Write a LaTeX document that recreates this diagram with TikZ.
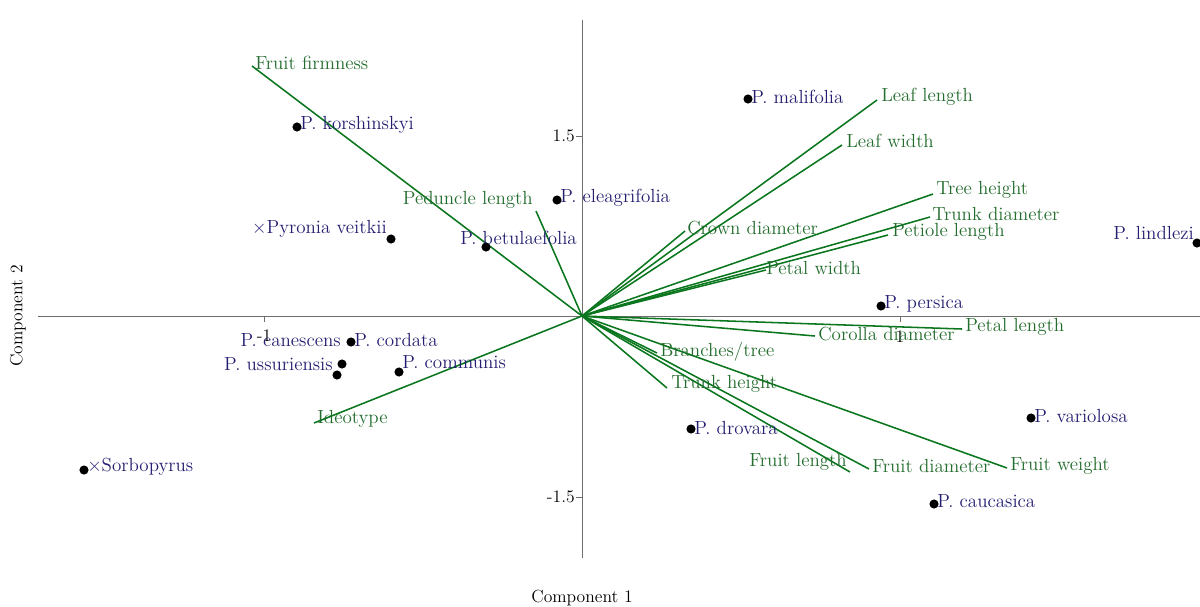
\documentclass[tikz,border=0pt]{standalone}
\usepackage{xcolor}
\definecolor{vecgreen}{RGB}{10,118,30}
\definecolor{labgreen}{RGB}{35,108,45}
\definecolor{spblue}{RGB}{35,30,112}
\definecolor{axgray}{RGB}{110,110,110}
\tikzset{
  vec/.style={draw=vecgreen,line width=1.1pt},
  vlab/.style={text=labgreen,inner sep=0pt,font=\fontsize{13.5}{15}\selectfont},
  splab/.style={text=spblue,inner sep=0pt,font=\fontsize{13.5}{15}\selectfont},
  pt/.style={circle,fill=black,inner sep=0pt,minimum size=6.5pt},
  tick/.style={inner sep=0pt,font=\fontsize{12.5}{14}\selectfont},
  axis/.style={draw=axgray,line width=0.7pt}
}
\begin{document}
\begin{tikzpicture}[x=0.025cm,y=-0.025cm]
        \useasboundingbox (0,0) rectangle (1200,606);
        %%%%%%%%%% Assi e tacche %%%%%%%%%%
        \coordinate (O) at (582,316);
        \coordinate (xl) at (38,316);
        \coordinate (xr) at (1200,316);
        \coordinate (yt) at (582,20);
        \coordinate (yb) at (582,558);
        \draw[axis] (xl) -- (xr);
        \draw[axis] (yt) -- (yb);
        \draw[axis] (264,316) -- (264,322);
        \draw[axis] (900,316) -- (900,322);
        \draw[axis] (582,136) -- (576,136);
        \draw[axis] (582,497) -- (576,497);
        \node[tick,anchor=east] (t15) at (575,136) {1.5};
        \node[tick,anchor=east] (tm15) at (575,497) {-1.5};
        \node[tick] (tm1) at (264,336) {-1};
        \node[tick] (t1) at (900,337) {1};
        \node[tick] (c1) at (582,598) {Component 1};
        \node[tick,rotate=90] (c2) at (18,316) {Component 2};

        %%%%%%%%%% Vettori %%%%%%%%%%
        \coordinate (firm) at (252,66);
        \coordinate (pedl) at (536,211);
        \coordinate (leafl) at (877,100);
        \coordinate (leafw) at (842,145);
        \coordinate (treeh) at (933,194);
        \coordinate (trunkd) at (930,217);
        \coordinate (petil) at (888,235);
        \coordinate (crown) at (685,231);
        \coordinate (petw) at (766,270);
        \coordinate (petl) at (962,329);
        \coordinate (coro) at (815,336);
        \coordinate (branch) at (657,353);
        \coordinate (trunkh) at (667,388);
        \coordinate (frl) at (850,472);
        \coordinate (frd) at (869,469);
        \coordinate (frw) at (1007,468);
        \coordinate (ideo) at (314,423);
        \foreach \v in {firm,pedl,leafl,leafw,treeh,trunkd,petil,crown,petw,petl,coro,branch,trunkh,frl,frd,frw,ideo}
          \draw[vec] (O) -- (\v);

        %%%%%%%%%% Etichette vettori %%%%%%%%%%
        \node[vlab,anchor=west] (firmT) at (255,63) {Fruit firmness};
        \node[vlab,anchor=east] (pedlT) at (533,200) {Peduncle length};
        \node[vlab,anchor=west] (leaflT) at (881,97) {Leaf length};
        \node[vlab,anchor=west] (leafwT) at (846,141) {Leaf width};
        \node[vlab,anchor=west] (treehT) at (936,190) {Tree height};
        \node[vlab,anchor=west] (trunkdT) at (932,214) {Trunk diameter};
        \node[vlab,anchor=west] (petilT) at (892,232) {Petiole length};
        \node[vlab,anchor=west] (crownT) at (687,228) {Crown diameter};
        \node[vlab,anchor=west] (petwT) at (766,268) {Petal width};
        \node[vlab,anchor=west] (petlT) at (965,327) {Petal length};
        \node[vlab,anchor=west] (coroT) at (818,334) {Corolla diameter};
        \node[vlab,anchor=west] (branchT) at (660,352) {Branches/tree};
        \node[vlab,anchor=west] (trunkhT) at (671,384) {Trunk height};
        \node[vlab,anchor=east] (frlT) at (847,462) {Fruit length};
        \node[vlab,anchor=west] (frdT) at (872,466) {Fruit diameter};
        \node[vlab,anchor=west] (frwT) at (1010,466) {Fruit weight};
        \node[vlab,anchor=west] (ideoT) at (317,419) {Ideotype};

        %%%%%%%%%% Punti %%%%%%%%%%
        \node[pt] (korsh) at (297,127) {};
        \node[pt] (pyron) at (391,239) {};
        \node[pt] (betul) at (486,247) {};
        \node[pt] (eleag) at (557,200) {};
        \node[pt] (malif) at (748,99) {};
        \node[pt] (lindl) at (1197,243) {};
        \node[pt] (persi) at (881,306) {};
        \node[pt] (vario) at (1031,418) {};
        \node[pt] (cauca) at (934,504) {};
        \node[pt] (drova) at (691,429) {};
        \node[pt] (corda) at (351,342) {};
        \node[pt] (canes) at (342,364) {};
        \node[pt] (ussur) at (337,375) {};
        \node[pt] (commu) at (399,372) {};
        \node[pt] (sorbo) at (84,470) {};

        \node[splab,anchor=west] (korshT) at (300,125) {P. korshinskyi};
        \node[splab,anchor=east] (pyronT) at (387,229) {\texttimes Pyronia veitkii};
        \node[splab,anchor=west] (betulT) at (460,238) {P. betulaefolia};
        \node[splab,anchor=west] (eleagT) at (560,198) {P. eleagrifolia};
        \node[splab,anchor=west] (malifT) at (751,97) {P. malifolia};
        \node[splab,anchor=east] (lindlT) at (1194,233) {P. lindlezi};
        \node[splab,anchor=west] (persiT) at (884,304) {P. persica};
        \node[splab,anchor=west] (varioT) at (1034,416) {P. variolosa};
        \node[splab,anchor=west] (caucaT) at (937,501) {P. caucasica};
        \node[splab,anchor=west] (drovaT) at (694,428) {P. drovara};
        \node[splab,anchor=west] (cordaT) at (354,340) {P. cordata};
        \node[splab,anchor=east] (canesT) at (341,340) {P. canescens};
        \node[splab,anchor=east] (ussurT) at (333,364) {P. ussuriensis};
        \node[splab,anchor=west] (commuT) at (402,362) {P. communis};
        \node[splab,anchor=west] (sorboT) at (87,467) {\texttimes Sorbopyrus};
    \end{tikzpicture}
\end{document}
